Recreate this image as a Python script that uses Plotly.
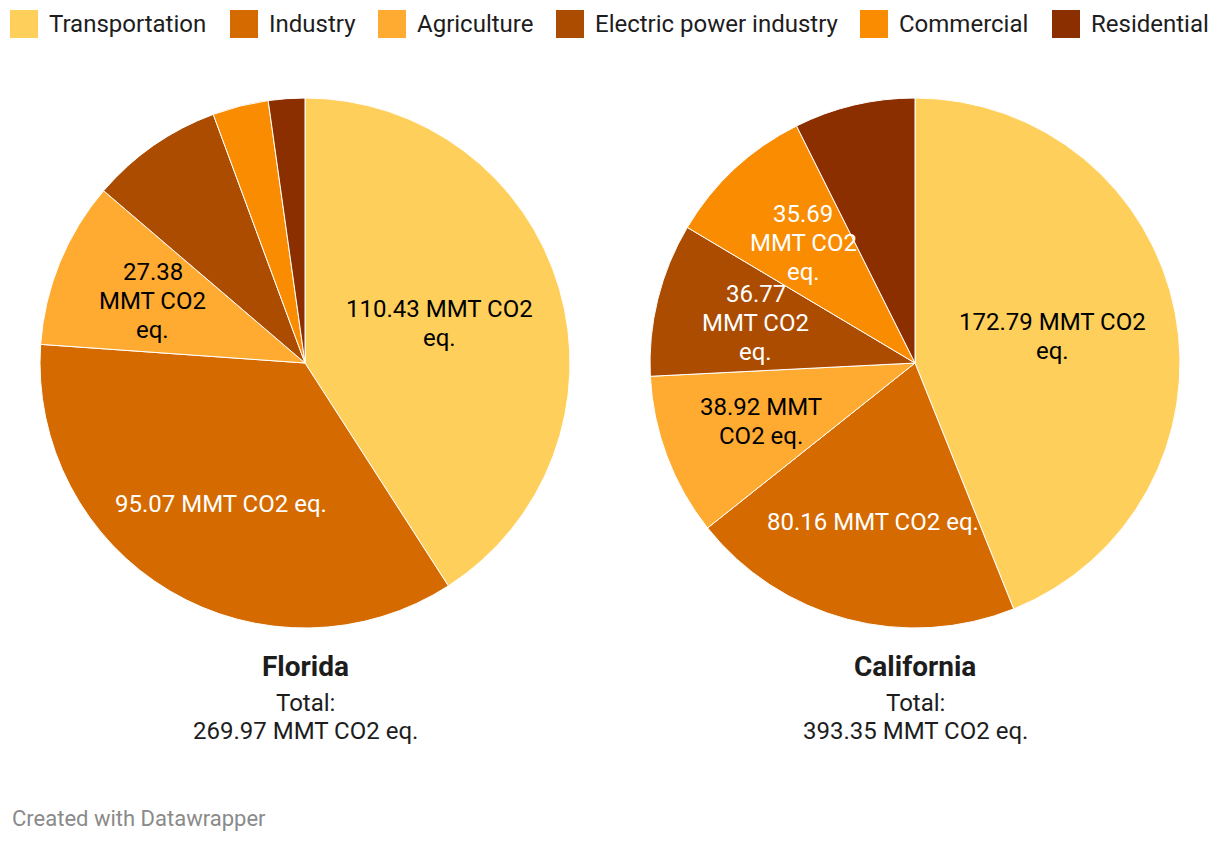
import math
import plotly.graph_objects as go

# ---------------- data ----------------
categories = ["Transportation", "Industry", "Agriculture",
              "Electric power industry", "Commercial", "Residential"]
florida = [110.43, 95.07, 27.38, 21.90, 9.20, 5.99]
california = [172.79, 80.16, 38.92, 36.77, 35.69, 29.02]
states = ["Florida", "California"]
unit = "MMT CO2 eq."

# ---------------- style ----------------
colors = ["#FFCF5B", "#D56B00", "#FFAB32", "#AC4C00", "#F98C00", "#8C2F00"]
label_dark = [True, False, True, False, False, False]
OFF = 8                      # page body margin
W, H = 1220 - 2 * OFF, 842 - 2 * OFF
FONT = "Roboto, 'Open Sans', sans-serif"
TXT = "#1d1d1d"
centers = [305, 915]
CY, R = 363, 265
LINE_H = 29

wraps = {
    ("Florida", 0): "{v} MMT CO2<br>eq.",
    ("Florida", 1): "{v} MMT CO2 eq.",
    ("Florida", 2): "{v}<br>MMT CO2<br>eq.",
    ("California", 0): "{v} MMT CO2<br>eq.",
    ("California", 1): "{v} MMT CO2 eq.",
    ("California", 2): "{v} MMT<br>CO2 eq.",
    ("California", 3): "{v}<br>MMT CO2<br>eq.",
    ("California", 4): "{v}<br>MMT CO2<br>eq.",
}


def px(x):
    return (x - OFF) / W


def py(y):
    return 1 - (y - OFF) / H


fig = go.Figure()
annotations = []
shapes = []

for si, (state, vals) in enumerate(zip(states, [florida, california])):
    cx = centers[si]
    fig.add_trace(go.Pie(
        labels=categories, values=vals, sort=False, direction="clockwise",
        rotation=0, textinfo="none", showlegend=False,
        marker=dict(colors=colors, line=dict(color="white", width=1)),
        domain=dict(x=[px(cx - R), px(cx + R)], y=[py(CY + R), py(CY - R)]),
        name=state,
    ))
    total = sum(vals)
    cum = 0.0
    for i, v in enumerate(vals):
        frac = v / total
        mid = (cum + frac / 2) * 2 * math.pi
        cum += frac
        if (state, i) not in wraps:
            continue
        rf = 0.53 if frac > 0.38 else 0.62
        lx = cx + rf * R * math.sin(mid)
        ly = CY - rf * R * math.cos(mid)
        lines = wraps[(state, i)].format(v=f"{v:.2f}").split("<br>")
        n = len(lines)
        for j, line in enumerate(lines):
            annotations.append(dict(
                x=px(lx), y=py(ly + (j - (n - 1) / 2) * LINE_H),
                xref="paper", yref="paper",
                text=line, showarrow=False,
                xanchor="center", yanchor="middle", align="center",
                font=dict(family=FONT, size=24,
                          color="#000000" if label_dark[i] else "#ffffff"),
            ))
    # state title and total
    annotations.append(dict(
        x=px(cx), y=py(666), xref="paper", yref="paper", text=f"<b>{state}</b>",
        showarrow=False, xanchor="center", yanchor="middle",
        font=dict(family=FONT, size=28, color=TXT)))
    annotations.append(dict(
        x=px(cx), y=py(703), xref="paper", yref="paper", text="Total:",
        showarrow=False, xanchor="center", yanchor="middle",
        font=dict(family=FONT, size=24, color=TXT)))
    annotations.append(dict(
        x=px(cx), y=py(731), xref="paper", yref="paper",
        text=f"{total:.2f} {unit}",
        showarrow=False, xanchor="center", yanchor="middle",
        font=dict(family=FONT, size=24, color=TXT)))

# legend (custom, top)
legend_x = [10, 230, 378, 556, 860, 1052]
for i, cat in enumerate(categories):
    x0 = legend_x[i]
    shapes.append(dict(type="rect", xref="paper", yref="paper",
                       x0=px(x0), x1=px(x0 + 28), y0=py(38), y1=py(10),
                       fillcolor=colors[i], line=dict(width=0)))
    annotations.append(dict(
        x=px(x0 + 37), y=py(24), xref="paper", yref="paper", text=cat,
        showarrow=False, xanchor="left", yanchor="middle",
        font=dict(family=FONT, size=24, color=TXT)))

annotations.append(dict(
    x=px(10), y=py(818), xref="paper", yref="paper",
    text="Created with Datawrapper", showarrow=False,
    xanchor="left", yanchor="middle",
    font=dict(family=FONT, size=22, color="#8a8a8a")))

fig.update_layout(
    width=W, height=H, margin=dict(l=0, r=0, t=0, b=0),
    paper_bgcolor="white", plot_bgcolor="white",
    annotations=annotations, shapes=shapes, showlegend=False,
)

fig.write_html("out.html")
